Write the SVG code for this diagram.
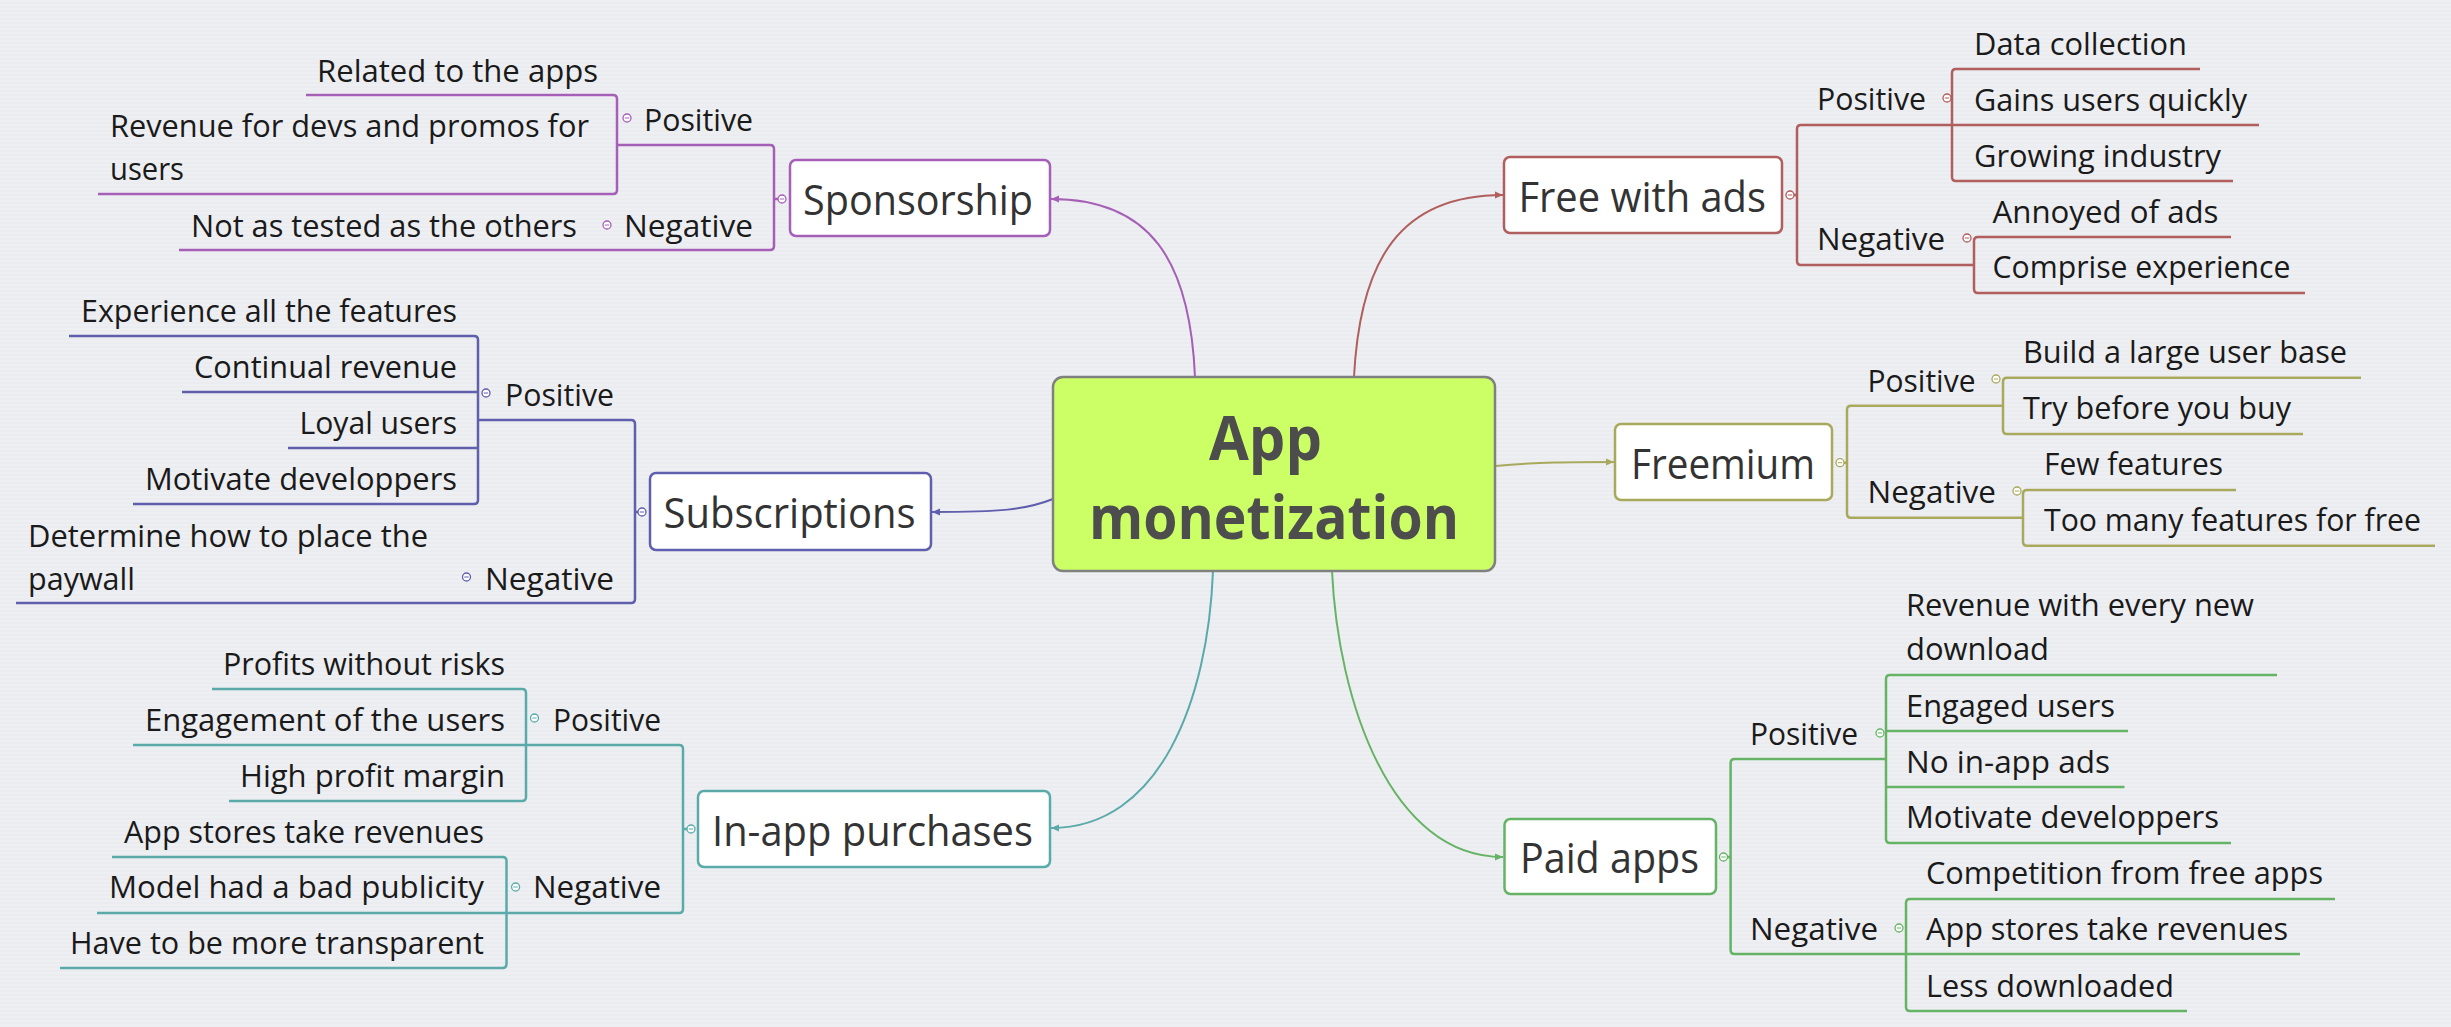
<svg xmlns="http://www.w3.org/2000/svg" xmlns:xlink="http://www.w3.org/1999/xlink" width="2451" height="1027" viewBox="0 0 2451 1027">
<style>
.t{font-family:"Open Sans","Noto Sans","DejaVu Sans",sans-serif;font-size:31px;fill:#1a1a1a}
.n{font-family:"Open Sans","Noto Sans","DejaVu Sans",sans-serif;font-size:42px;fill:#333}
.c{font-family:"Open Sans","Noto Sans","DejaVu Sans",sans-serif;font-size:60px;font-weight:bold;fill:#4d4d4d}
.box{fill:#fff;stroke-width:2.5}
.ln{fill:none;stroke-width:2.5}
.cv{fill:none;stroke-width:2}
.ci{fill:#fff;stroke-width:1.3}
.pu{stroke:#a65fb6}
.rd{stroke:#b05e5e}
.ol{stroke:#a9a95e}
.bl{stroke:#5f5fae}
.te{stroke:#5aaaaa}
.gr{stroke:#66b366}
</style>
<defs>
<pattern id="bg" width="8" height="4" patternUnits="userSpaceOnUse">
<rect width="8" height="4" fill="#eeeff2"/>
<rect y="2" width="8" height="2" fill="#ebecef"/>
</pattern>
<g id="mi"><circle r="4" class="ci"/><path d="M-2.2,0H2.2" stroke-width="1"/></g>
<marker id="aPu" markerWidth="9" markerHeight="8" refX="8" refY="4" orient="auto" markerUnits="userSpaceOnUse"><path d="M0,0.5L8,4L0,7.5z" fill="#a65fb6"/></marker>
<marker id="aRd" markerWidth="9" markerHeight="8" refX="8" refY="4" orient="auto" markerUnits="userSpaceOnUse"><path d="M0,0.5L8,4L0,7.5z" fill="#b05e5e"/></marker>
<marker id="aOl" markerWidth="9" markerHeight="8" refX="8" refY="4" orient="auto" markerUnits="userSpaceOnUse"><path d="M0,0.5L8,4L0,7.5z" fill="#a9a95e"/></marker>
<marker id="aBl" markerWidth="9" markerHeight="8" refX="8" refY="4" orient="auto" markerUnits="userSpaceOnUse"><path d="M0,0.5L8,4L0,7.5z" fill="#5f5fae"/></marker>
<marker id="aTe" markerWidth="9" markerHeight="8" refX="8" refY="4" orient="auto" markerUnits="userSpaceOnUse"><path d="M0,0.5L8,4L0,7.5z" fill="#5aaaaa"/></marker>
<marker id="aGr" markerWidth="9" markerHeight="8" refX="8" refY="4" orient="auto" markerUnits="userSpaceOnUse"><path d="M0,0.5L8,4L0,7.5z" fill="#66b366"/></marker>
</defs>
<rect width="2451" height="1027" fill="url(#bg)"/>

<g id="connectors">
<!-- curves from the central topic -->
<path class="cv pu" d="M1195,377 C1190,260 1150,199 1051,199" marker-end="url(#aPu)"/>
<path class="cv rd" d="M1354,377 C1360,260 1400,195 1503,195" marker-end="url(#aRd)"/>
<path class="cv ol" d="M1495,466 C1540,462 1570,462 1614,462" marker-end="url(#aOl)"/>
<path class="cv bl" d="M1053,499 C1025,510 1000,512 932,512" marker-end="url(#aBl)"/>
<path class="cv te" d="M1213,571 C1208,700 1160,828 1051,828" marker-end="url(#aTe)"/>
<path class="cv gr" d="M1332,571 C1338,700 1390,857 1503,857" marker-end="url(#aGr)"/>

<!-- Sponsorship -->
<path class="ln pu" d="M306,95 H613 Q617,95 617,99 V190 Q617,194 613,194 H98"/>
<path class="ln pu" d="M617,145 H770 Q774,145 774,149 V246 Q774,250 770,250 H179"/>
<path class="ln pu" d="M774,199 H778"/>
<!-- Free with ads -->
<path class="ln rd" d="M2259,125 H1801 Q1797,125 1797,129 V261 Q1797,265 1801,265 H1974"/>
<path class="ln rd" d="M2200,69 H1956 Q1952,69 1952,73 V177 Q1952,181 1956,181 H2233"/>
<path class="ln rd" d="M2231,237 H1978 Q1974,237 1974,241 V289 Q1974,293 1978,293 H2305"/>
<path class="ln rd" d="M1794,195 H1797"/>
<!-- Freemium -->
<path class="ln ol" d="M2003,405.7 H1851 Q1847,405.7 1847,409.7 V513.7 Q1847,517.7 1851,517.7 H2023"/>
<path class="ln ol" d="M2361,377.7 H2007 Q2003,377.7 2003,381.7 V430 Q2003,434 2007,434 H2303"/>
<path class="ln ol" d="M2236,490 H2027 Q2023,490 2023,494 V541.7 Q2023,545.7 2027,545.7 H2435"/>
<path class="ln ol" d="M1844,462.7 H1847"/>
<!-- Subscriptions -->
<path class="ln bl" d="M69,336 H474 Q478,336 478,340 V500 Q478,504 474,504 H133"/>
<path class="ln bl" d="M182,392 H478 M288,448 H478"/>
<path class="ln bl" d="M478,420 H631 Q635,420 635,424 V599 Q635,603 631,603 H16"/>
<path class="ln bl" d="M635,512 H638"/>
<!-- In-app purchases -->
<path class="ln te" d="M212,689 H522 Q526,689 526,693 V797 Q526,801 522,801 H229"/>
<path class="ln te" d="M133,745 H679 Q683,745 683,749 V909 Q683,913 679,913 H97"/>
<path class="ln te" d="M112,857 H502.5 Q506.5,857 506.5,861 V964 Q506.5,968 502.5,968 H60"/>
<path class="ln te" d="M683,829 H687"/>
<!-- Paid apps -->
<path class="ln gr" d="M2300,954 H1734.6 Q1730.6,954 1730.6,950 V763 Q1730.6,759 1734.6,759 H1886"/>
<path class="ln gr" d="M2277,675 H1890 Q1886,675 1886,679 V839 Q1886,843 1890,843 H2231"/>
<path class="ln gr" d="M1886,731 H2128 M1886,787 H2124.5"/>
<path class="ln gr" d="M2335,899 H1910 Q1906,899 1906,903 V1007 Q1906,1011 1910,1011 H2187"/>
<path class="ln gr" d="M1727.5,857 H1730.6"/>

<!-- collapse icons -->
<use href="#mi" x="782" y="199" stroke="#a65fb6"/>
<use href="#mi" x="627" y="118" stroke="#a65fb6"/>
<use href="#mi" x="607" y="225" stroke="#a65fb6"/>
<use href="#mi" x="1790" y="195" stroke="#b05e5e"/>
<use href="#mi" x="1947" y="98" stroke="#b05e5e"/>
<use href="#mi" x="1967" y="238" stroke="#b05e5e"/>
<use href="#mi" x="1840" y="462.7" stroke="#a9a95e"/>
<use href="#mi" x="1996" y="379" stroke="#a9a95e"/>
<use href="#mi" x="2017" y="491" stroke="#a9a95e"/>
<use href="#mi" x="642" y="512" stroke="#5f5fae"/>
<use href="#mi" x="486" y="393" stroke="#5f5fae"/>
<use href="#mi" x="466.5" y="577" stroke="#5f5fae"/>
<use href="#mi" x="691" y="829" stroke="#5aaaaa"/>
<use href="#mi" x="534.5" y="718" stroke="#5aaaaa"/>
<use href="#mi" x="515.6" y="887" stroke="#5aaaaa"/>
<use href="#mi" x="1723.5" y="857" stroke="#66b366"/>
<use href="#mi" x="1880" y="733" stroke="#66b366"/>
<use href="#mi" x="1899" y="928" stroke="#66b366"/>
</g>

<g id="central">
<rect x="1053" y="377" width="442" height="194" rx="10" fill="#ccff66" stroke="#808080" stroke-width="2.5"/>
<text class="c" x="1209" y="460" textLength="113" lengthAdjust="spacingAndGlyphs">App</text>
<text class="c" x="1089" y="539" textLength="370" lengthAdjust="spacingAndGlyphs">monetization</text>
</g>

<g id="sponsorship">
<rect class="box pu" x="790" y="160" width="260" height="76" rx="6"/>
<text class="n" x="803" y="215" textLength="230" lengthAdjust="spacingAndGlyphs">Sponsorship</text>
</g>
<g id="sp-positive"><text class="t" x="644" y="131" textLength="109" lengthAdjust="spacingAndGlyphs">Positive</text></g>
<g id="sp-pos-1"><text class="t" x="317" y="82" textLength="281" lengthAdjust="spacingAndGlyphs">Related to the apps</text></g>
<g id="sp-pos-2"><text class="t" x="110" y="137" textLength="479" lengthAdjust="spacingAndGlyphs">Revenue for devs and promos for</text><text class="t" x="110" y="180" textLength="74" lengthAdjust="spacingAndGlyphs">users</text></g>
<g id="sp-negative"><text class="t" x="624" y="237" textLength="129" lengthAdjust="spacingAndGlyphs">Negative</text></g>
<g id="sp-neg-1"><text class="t" x="191" y="237" textLength="386" lengthAdjust="spacingAndGlyphs">Not as tested as the others</text></g>

<g id="free-with-ads">
<rect class="box rd" x="1504" y="157" width="278" height="76" rx="6"/>
<text class="n" x="1518.5" y="212" textLength="247.5" lengthAdjust="spacingAndGlyphs">Free with ads</text>
</g>
<g id="fa-positive"><text class="t" x="1817" y="110" textLength="109" lengthAdjust="spacingAndGlyphs">Positive</text></g>
<g id="fa-pos-1"><text class="t" x="1974" y="55" textLength="213" lengthAdjust="spacingAndGlyphs">Data collection</text></g>
<g id="fa-pos-2"><text class="t" x="1974" y="111" textLength="273" lengthAdjust="spacingAndGlyphs">Gains users quickly</text></g>
<g id="fa-pos-3"><text class="t" x="1974" y="167" textLength="247" lengthAdjust="spacingAndGlyphs">Growing industry</text></g>
<g id="fa-negative"><text class="t" x="1817" y="250" textLength="128" lengthAdjust="spacingAndGlyphs">Negative</text></g>
<g id="fa-neg-1"><text class="t" x="1992.5" y="223" textLength="226" lengthAdjust="spacingAndGlyphs">Annoyed of ads</text></g>
<g id="fa-neg-2"><text class="t" x="1992.5" y="278" textLength="298" lengthAdjust="spacingAndGlyphs">Comprise experience</text></g>

<g id="freemium">
<rect class="box ol" x="1615" y="424" width="217" height="76" rx="6"/>
<text class="n" x="1631" y="479" textLength="184" lengthAdjust="spacingAndGlyphs">Freemium</text>
</g>
<g id="fr-positive"><text class="t" x="1867.5" y="392" textLength="108" lengthAdjust="spacingAndGlyphs">Positive</text></g>
<g id="fr-pos-1"><text class="t" x="2023" y="363" textLength="324" lengthAdjust="spacingAndGlyphs">Build a large user base</text></g>
<g id="fr-pos-2"><text class="t" x="2023" y="419" textLength="268" lengthAdjust="spacingAndGlyphs">Try before you buy</text></g>
<g id="fr-negative"><text class="t" x="1867.5" y="503" textLength="128.5" lengthAdjust="spacingAndGlyphs">Negative</text></g>
<g id="fr-neg-1"><text class="t" x="2044" y="475" textLength="179" lengthAdjust="spacingAndGlyphs">Few features</text></g>
<g id="fr-neg-2"><text class="t" x="2044" y="531" textLength="377" lengthAdjust="spacingAndGlyphs">Too many features for free</text></g>

<g id="subscriptions">
<rect class="box bl" x="650" y="473" width="281" height="77" rx="6"/>
<text class="n" x="663.6" y="528" textLength="252" lengthAdjust="spacingAndGlyphs">Subscriptions</text>
</g>
<g id="su-positive"><text class="t" x="505" y="406" textLength="109" lengthAdjust="spacingAndGlyphs">Positive</text></g>
<g id="su-pos-1"><text class="t" x="81" y="322" textLength="376" lengthAdjust="spacingAndGlyphs">Experience all the features</text></g>
<g id="su-pos-2"><text class="t" x="194" y="378" textLength="263" lengthAdjust="spacingAndGlyphs">Continual revenue</text></g>
<g id="su-pos-3"><text class="t" x="299.5" y="434" textLength="157.5" lengthAdjust="spacingAndGlyphs">Loyal users</text></g>
<g id="su-pos-4"><text class="t" x="145" y="490" textLength="312" lengthAdjust="spacingAndGlyphs">Motivate developpers</text></g>
<g id="su-negative"><text class="t" x="485" y="590" textLength="129" lengthAdjust="spacingAndGlyphs">Negative</text></g>
<g id="su-neg-1"><text class="t" x="28" y="547" textLength="400" lengthAdjust="spacingAndGlyphs">Determine how to place the</text><text class="t" x="28" y="590" textLength="107" lengthAdjust="spacingAndGlyphs">paywall</text></g>

<g id="in-app-purchases">
<rect class="box te" x="698" y="791" width="352" height="76" rx="6"/>
<text class="n" x="712" y="846" textLength="321" lengthAdjust="spacingAndGlyphs">In-app purchases</text>
</g>
<g id="ia-positive"><text class="t" x="553" y="731" textLength="108" lengthAdjust="spacingAndGlyphs">Positive</text></g>
<g id="ia-pos-1"><text class="t" x="223" y="675" textLength="282" lengthAdjust="spacingAndGlyphs">Profits without risks</text></g>
<g id="ia-pos-2"><text class="t" x="145" y="731" textLength="360" lengthAdjust="spacingAndGlyphs">Engagement of the users</text></g>
<g id="ia-pos-3"><text class="t" x="240" y="787" textLength="265" lengthAdjust="spacingAndGlyphs">High profit margin</text></g>
<g id="ia-negative"><text class="t" x="533" y="898" textLength="128" lengthAdjust="spacingAndGlyphs">Negative</text></g>
<g id="ia-neg-1"><text class="t" x="124" y="843" textLength="360" lengthAdjust="spacingAndGlyphs">App stores take revenues</text></g>
<g id="ia-neg-2"><text class="t" x="109" y="898" textLength="375" lengthAdjust="spacingAndGlyphs">Model had a bad publicity</text></g>
<g id="ia-neg-3"><text class="t" x="70" y="954" textLength="414" lengthAdjust="spacingAndGlyphs">Have to be more transparent</text></g>

<g id="paid-apps">
<rect class="box gr" x="1504.5" y="819" width="211.5" height="75" rx="6"/>
<text class="n" x="1520" y="873" textLength="179" lengthAdjust="spacingAndGlyphs">Paid apps</text>
</g>
<g id="pa-positive"><text class="t" x="1750" y="745" textLength="108" lengthAdjust="spacingAndGlyphs">Positive</text></g>
<g id="pa-pos-1"><text class="t" x="1906" y="616" textLength="348" lengthAdjust="spacingAndGlyphs">Revenue with every new</text><text class="t" x="1906" y="660" textLength="143" lengthAdjust="spacingAndGlyphs">download</text></g>
<g id="pa-pos-2"><text class="t" x="1906" y="717" textLength="209" lengthAdjust="spacingAndGlyphs">Engaged users</text></g>
<g id="pa-pos-3"><text class="t" x="1906" y="773" textLength="204" lengthAdjust="spacingAndGlyphs">No in-app ads</text></g>
<g id="pa-pos-4"><text class="t" x="1906" y="828" textLength="313" lengthAdjust="spacingAndGlyphs">Motivate developpers</text></g>
<g id="pa-negative"><text class="t" x="1750" y="940" textLength="128" lengthAdjust="spacingAndGlyphs">Negative</text></g>
<g id="pa-neg-1"><text class="t" x="1926" y="884" textLength="397" lengthAdjust="spacingAndGlyphs">Competition from free apps</text></g>
<g id="pa-neg-2"><text class="t" x="1926" y="940" textLength="362" lengthAdjust="spacingAndGlyphs">App stores take revenues</text></g>
<g id="pa-neg-3"><text class="t" x="1926" y="997" textLength="248" lengthAdjust="spacingAndGlyphs">Less downloaded</text></g>
</svg>
